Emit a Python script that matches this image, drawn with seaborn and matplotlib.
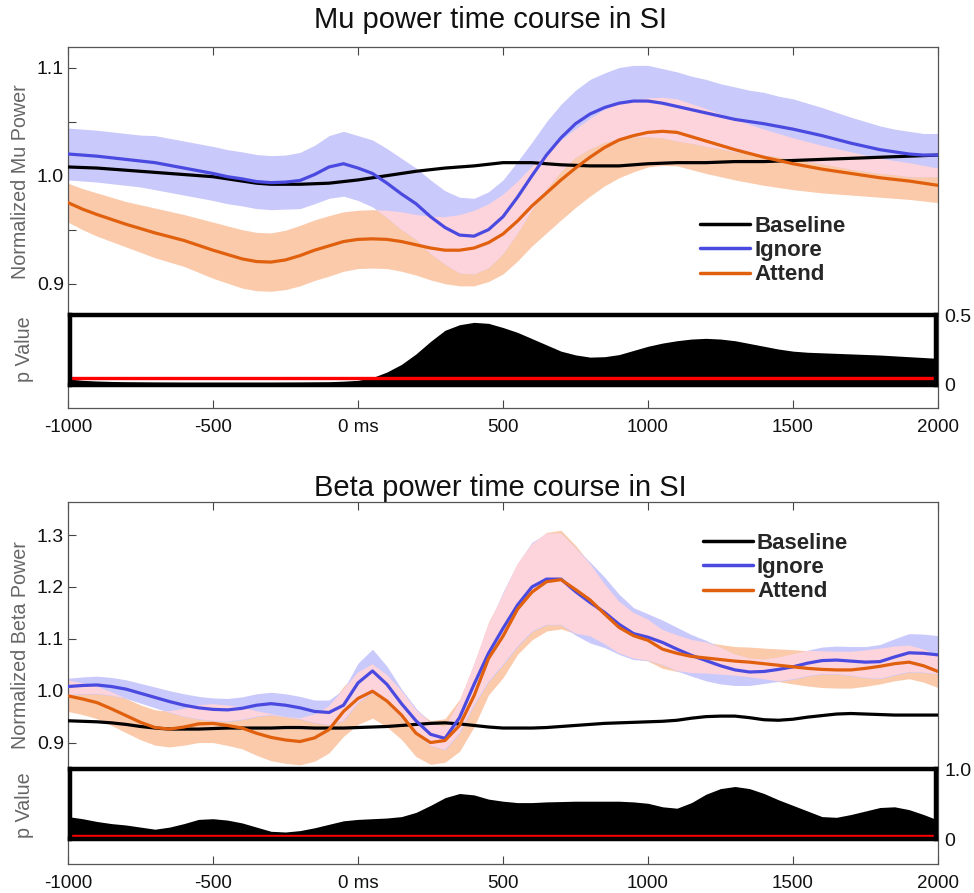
import numpy as np
import matplotlib
matplotlib.use("Agg")
import matplotlib.pyplot as plt
import seaborn as sns
from matplotlib.lines import Line2D

sns.set_theme(style="white")
plt.rcParams["font.family"] = ["Liberation Sans", "DejaVu Sans"]

# ---------------- data (every 50 ms) ----------------
time_ms = [-1000, -950, -900, -850, -800, -750, -700, -650, -600, -550,
           -500, -450, -400, -350, -300, -250, -200, -150, -100, -50,
           0, 50, 100, 150, 200, 250, 300, 350, 400, 450,
           500, 550, 600, 650, 700, 750, 800, 850, 900, 950,
           1000, 1050, 1100, 1150, 1200, 1250, 1300, 1350, 1400, 1450,
           1500, 1550, 1600, 1650, 1700, 1750, 1800, 1850, 1900, 1950, 2000]

mu_baseline = [1.008, 1.0075, 1.007, 1.006, 1.005, 1.004, 1.003, 1.002, 1.001, 1.000,
               0.999, 0.997, 0.995, 0.993, 0.992, 0.992, 0.992, 0.9925, 0.993, 0.9945,
               0.996, 0.998, 1.000, 1.002, 1.004, 1.0055, 1.007, 1.008, 1.009, 1.0105,
               1.012, 1.012, 1.012, 1.011, 1.010, 1.0095, 1.009, 1.009, 1.009, 1.010,
               1.011, 1.0115, 1.012, 1.012, 1.012, 1.0125, 1.013, 1.013, 1.013, 1.0135,
               1.014, 1.0145, 1.015, 1.0155, 1.016, 1.0165, 1.017, 1.0175, 1.018, 1.0185, 1.019]
mu_ignore = [1.020, 1.019, 1.018, 1.0165, 1.015, 1.0135, 1.012, 1.0095, 1.007, 1.0045,
             1.002, 0.999, 0.997, 0.9945, 0.9935, 0.994, 0.9955, 1.001, 1.008, 1.011,
             1.007, 1.002, 0.993, 0.983, 0.974, 0.962, 0.952, 0.945, 0.944, 0.950,
             0.962, 0.980, 1.000, 1.019, 1.035, 1.048, 1.057, 1.063, 1.067, 1.069,
             1.069, 1.067, 1.064, 1.061, 1.058, 1.055, 1.052, 1.050, 1.048, 1.0455,
             1.043, 1.040, 1.037, 1.0335, 1.030, 1.027, 1.024, 1.022, 1.020, 1.019, 1.019]
mu_ignore_sem = [0.024, 0.024, 0.024, 0.024, 0.024, 0.024, 0.025, 0.025, 0.025, 0.025,
                 0.025, 0.025, 0.025, 0.025, 0.025, 0.025, 0.026, 0.027, 0.029, 0.030,
                 0.030, 0.031, 0.032, 0.033, 0.033, 0.034, 0.034, 0.035, 0.035, 0.035,
                 0.034, 0.033, 0.031, 0.031, 0.031, 0.031, 0.032, 0.032, 0.033, 0.033,
                 0.033, 0.032, 0.032, 0.031, 0.031, 0.030, 0.030, 0.029, 0.029, 0.028,
                 0.028, 0.027, 0.026, 0.025, 0.024, 0.023, 0.022, 0.021, 0.021, 0.020, 0.020]
mu_attend = [0.975, 0.969, 0.964, 0.9595, 0.955, 0.951, 0.947, 0.9435, 0.940, 0.9355,
             0.931, 0.927, 0.923, 0.9205, 0.920, 0.922, 0.926, 0.931, 0.935, 0.939,
             0.941, 0.9415, 0.941, 0.939, 0.936, 0.933, 0.931, 0.931, 0.933, 0.938,
             0.946, 0.958, 0.972, 0.984, 0.996, 1.007, 1.017, 1.026, 1.033, 1.037,
             1.040, 1.041, 1.040, 1.036, 1.032, 1.028, 1.024, 1.0205, 1.017, 1.014,
             1.011, 1.0085, 1.006, 1.004, 1.002, 1.000, 0.998, 0.9965, 0.995, 0.993, 0.991]
mu_attend_sem = [0.018, 0.019, 0.020, 0.0205, 0.021, 0.022, 0.023, 0.0235, 0.024, 0.025,
                 0.026, 0.0265, 0.027, 0.027, 0.027, 0.0275, 0.028, 0.028, 0.028, 0.0275,
                 0.027, 0.027, 0.027, 0.0275, 0.028, 0.0295, 0.031, 0.033, 0.035, 0.036,
                 0.037, 0.037, 0.037, 0.037, 0.037, 0.0365, 0.036, 0.0355, 0.035, 0.0335,
                 0.032, 0.0315, 0.031, 0.0305, 0.030, 0.029, 0.028, 0.027, 0.026, 0.025,
                 0.024, 0.023, 0.022, 0.021, 0.020, 0.019, 0.018, 0.0175, 0.017, 0.0165, 0.016]
mu_pvalue = [0.040, 0.030, 0.025, 0.022, 0.020, 0.019, 0.018, 0.0175, 0.017, 0.017,
             0.017, 0.017, 0.017, 0.017, 0.017, 0.0175, 0.018, 0.019, 0.020, 0.024,
             0.030, 0.050, 0.090, 0.145, 0.220, 0.310, 0.390, 0.430, 0.447, 0.440,
             0.410, 0.375, 0.330, 0.285, 0.240, 0.213, 0.197, 0.200, 0.215, 0.245,
             0.275, 0.298, 0.315, 0.327, 0.332, 0.327, 0.315, 0.295, 0.275, 0.255,
             0.240, 0.232, 0.228, 0.224, 0.220, 0.216, 0.212, 0.206, 0.200, 0.194, 0.188]

beta_baseline = [0.942, 0.941, 0.940, 0.938, 0.935, 0.931, 0.928, 0.926, 0.926, 0.926,
                 0.927, 0.928, 0.928, 0.928, 0.928, 0.929, 0.929, 0.928, 0.928, 0.928,
                 0.929, 0.930, 0.931, 0.933, 0.935, 0.937, 0.938, 0.936, 0.933, 0.930,
                 0.928, 0.928, 0.928, 0.929, 0.931, 0.933, 0.935, 0.937, 0.938, 0.939,
                 0.940, 0.941, 0.943, 0.947, 0.950, 0.951, 0.951, 0.948, 0.944, 0.943,
                 0.945, 0.949, 0.952, 0.955, 0.956, 0.955, 0.954, 0.953, 0.953, 0.953, 0.953]
beta_ignore = [1.008, 1.010, 1.011, 1.008, 1.003, 0.995, 0.987, 0.979, 0.972, 0.967,
               0.964, 0.963, 0.966, 0.972, 0.975, 0.972, 0.967, 0.960, 0.958, 0.972,
               1.015, 1.038, 1.012, 0.975, 0.942, 0.916, 0.908, 0.948, 1.012, 1.072,
               1.120, 1.165, 1.200, 1.215, 1.215, 1.191, 1.170, 1.151, 1.128, 1.110,
               1.103, 1.093, 1.080, 1.068, 1.058, 1.048, 1.040, 1.036, 1.037, 1.041,
               1.046, 1.053, 1.058, 1.059, 1.057, 1.055, 1.056, 1.065, 1.073, 1.072, 1.069]
beta_ignore_sem = [0.016, 0.0165, 0.017, 0.0175, 0.018, 0.019, 0.020, 0.021, 0.022, 0.022,
                   0.022, 0.022, 0.022, 0.022, 0.022, 0.022, 0.022, 0.022, 0.024, 0.030,
                   0.038, 0.042, 0.035, 0.028, 0.024, 0.022, 0.022, 0.030, 0.040, 0.055,
                   0.070, 0.080, 0.086, 0.088, 0.088, 0.084, 0.078, 0.068, 0.058, 0.050,
                   0.045, 0.043, 0.042, 0.040, 0.039, 0.035, 0.030, 0.026, 0.023, 0.023,
                   0.024, 0.025, 0.026, 0.027, 0.028, 0.030, 0.033, 0.035, 0.037, 0.037, 0.037]
beta_attend = [0.990, 0.984, 0.977, 0.965, 0.952, 0.939, 0.929, 0.926, 0.930, 0.936,
               0.937, 0.933, 0.928, 0.918, 0.910, 0.905, 0.902, 0.909, 0.925, 0.960,
               0.985, 0.999, 0.980, 0.953, 0.918, 0.900, 0.904, 0.933, 0.990, 1.062,
               1.105, 1.157, 1.190, 1.210, 1.214, 1.195, 1.175, 1.148, 1.122, 1.106,
               1.097, 1.080, 1.072, 1.066, 1.063, 1.060, 1.057, 1.055, 1.052, 1.049,
               1.046, 1.043, 1.041, 1.040, 1.040, 1.043, 1.047, 1.052, 1.055, 1.048, 1.037]
beta_attend_sem = [0.030, 0.030, 0.031, 0.032, 0.033, 0.0335, 0.034, 0.0345, 0.035, 0.036,
                   0.037, 0.0385, 0.040, 0.0425, 0.045, 0.045, 0.045, 0.045, 0.045, 0.048,
                   0.050, 0.052, 0.050, 0.047, 0.045, 0.042, 0.042, 0.050, 0.060, 0.070,
                   0.080, 0.087, 0.092, 0.095, 0.095, 0.085, 0.070, 0.058, 0.050, 0.044,
                   0.040, 0.037, 0.035, 0.032, 0.030, 0.029, 0.028, 0.029, 0.030, 0.0315,
                   0.033, 0.034, 0.035, 0.035, 0.035, 0.0345, 0.034, 0.033, 0.032, 0.0315, 0.031]
beta_pvalue = [0.32, 0.29, 0.25, 0.22, 0.20, 0.17, 0.14, 0.17, 0.22, 0.28,
               0.29, 0.27, 0.23, 0.17, 0.11, 0.10, 0.12, 0.16, 0.21, 0.26,
               0.28, 0.29, 0.30, 0.32, 0.38, 0.48, 0.59, 0.65, 0.63, 0.57,
               0.54, 0.52, 0.52, 0.53, 0.535, 0.54, 0.54, 0.54, 0.54, 0.53,
               0.51, 0.46, 0.44, 0.52, 0.64, 0.72, 0.75, 0.72, 0.65, 0.56,
               0.48, 0.40, 0.32, 0.31, 0.35, 0.40, 0.45, 0.46, 0.42, 0.35, 0.27]

p_threshold = 0.05
x_ticks = [-1000, -500, 0, 500, 1000, 1500, 2000]
x_tick_labels = ["-1000", "-500", "0 ms", "500", "1000", "1500", "2000"]
series_names = ["Baseline", "Ignore", "Attend"]

# ---------------- styling ----------------
C_BASE = "#000000"
C_IGN = "#4a4ae0"
C_ATT = "#e0600e"
C_IGN_BAND = "#c9c9fb"
C_ATT_BAND = "#fbcaab"
C_OVER = "#fdd4dc"
TICK_FS = 13.5
W, H = 974, 893

fig = plt.figure(figsize=(W / 100, H / 100), dpi=100)


def rect(l, t, r, b):
    return [l / W, 1 - b / H, (r - l) / W, (b - t) / H]


def panel(frame, ylim, yticks, yminor, pbox, plim, plabels, pvals,
          base, ign, ign_s, att, att_s, title, title_xy, ylabel, ylabel_y,
          plabel_y, legend_xy):
    t = np.array(time_ms, dtype=float)
    ign = np.array(ign); ign_s = np.array(ign_s)
    att = np.array(att); att_s = np.array(att_s)

    ax = fig.add_axes(rect(*frame))
    ax.set_xlim(-1000, 2000)
    ax.set_ylim(*ylim)

    ax.fill_between(t, att - att_s, att + att_s, color=C_ATT_BAND, lw=0, zorder=1)
    ax.fill_between(t, ign - ign_s, ign + ign_s, color=C_IGN_BAND, lw=0, zorder=1.1)
    lo = np.maximum(ign - ign_s, att - att_s)
    hi = np.minimum(ign + ign_s, att + att_s)
    ax.fill_between(t, lo, hi, where=hi > lo, interpolate=True,
                    color=C_OVER, lw=0, zorder=1.2)

    sns.lineplot(x=t, y=base, ax=ax, color=C_BASE, lw=2.3, label=series_names[0], zorder=3)
    sns.lineplot(x=t, y=ign, ax=ax, color=C_IGN, lw=2.3, label=series_names[1], zorder=3)
    sns.lineplot(x=t, y=att, ax=ax, color=C_ATT, lw=2.3, label=series_names[2], zorder=3)

    ax.set_xticks(x_ticks)
    ax.set_xticklabels(x_tick_labels)
    ax.set_yticks(yticks)
    ax.set_yticklabels([f"{v:.1f}" for v in yticks])
    ax.set_yticks(yminor, minor=True)
    ax.tick_params(axis="both", which="both", direction="in", length=6, width=0.8,
                   color="#444444", labelsize=TICK_FS, labelcolor="#111111",
                   top=True, right=False, left=True, bottom=True)
    ax.tick_params(axis="x", pad=8)
    ax.tick_params(axis="y", pad=3, labelsize=14)
    ax.set_xlabel("")
    ax.set_ylabel("")
    for s in ax.spines.values():
        s.set_linewidth(0.9)
        s.set_color("#555555")

    handles = [Line2D([], [], color=c, lw=2.5) for c in (C_BASE, C_IGN, C_ATT)]
    ax.legend(handles, series_names, loc="center left",
              bbox_to_anchor=(legend_xy[0] / W, 1 - legend_xy[1] / H),
              bbox_transform=fig.transFigure, frameon=False,
              prop={"weight": "bold", "size": 16}, handlelength=2.25,
              handletextpad=0.18, labelspacing=0.15, borderpad=0, borderaxespad=0)

    # p-value box
    pax = fig.add_axes(rect(*pbox))
    x0 = -1000 + (pbox[0] - frame[0]) / (frame[2] - frame[0]) * 3000
    x1 = 2000 - (frame[2] - pbox[2]) / (frame[2] - frame[0]) * 3000
    pax.set_xlim(x0, x1)
    pax.set_ylim(*plim)
    pax.fill_between(t, 0, pvals, color="black", lw=0)
    pax.axhline(p_threshold, color="#ff0000", lw=2.4)
    pax.set_facecolor("white")
    pax.set_xticks([])
    pax.yaxis.tick_right()
    pax.set_yticks(plim)
    pax.set_yticklabels(plabels)
    pax.tick_params(axis="y", length=0, pad=6, labelsize=14, labelcolor="#111111")
    for s in pax.spines.values():
        s.set_linewidth(3.2)
        s.set_color("black")

    fig.text(title_xy[0] / W, 1 - title_xy[1] / H, title, ha="center", va="center",
             fontsize=21, color="#111111")
    fig.text(21 / W, 1 - ylabel_y / H, ylabel, ha="center", va="center",
             rotation=90, fontsize=14.2, color="#666666")
    fig.text(24 / W, 1 - plabel_y / H, "p Value", ha="center", va="center",
             rotation=90, fontsize=14.2, color="#666666")


panel(frame=(68, 47, 938, 408), ylim=(0.785, 1.119), yticks=[0.9, 1.0, 1.1],
      yminor=[0.95, 1.05], pbox=(70, 315, 936, 384.5), plim=(0, 0.5),
      plabels=["0", "0.5"], pvals=mu_pvalue,
      base=mu_baseline, ign=mu_ignore, ign_s=mu_ignore_sem,
      att=mu_attend, att_s=mu_attend_sem,
      title="Mu power time course in SI", title_xy=(491, 20),
      ylabel="Normalized Mu Power", ylabel_y=182, plabel_y=349,
      legend_xy=(700, 250.5))

panel(frame=(68, 502, 938, 864), ylim=(0.666, 1.3636),
      yticks=[0.9, 1.0, 1.1, 1.2, 1.3], yminor=[],
      pbox=(70, 769, 936, 839), plim=(0, 1.0),
      plabels=["0", "1.0"], pvals=beta_pvalue,
      base=beta_baseline, ign=beta_ignore, ign_s=beta_ignore_sem,
      att=beta_attend, att_s=beta_attend_sem,
      title="Beta power time course in SI", title_xy=(500, 488),
      ylabel="Normalized Beta Power", ylabel_y=645, plabel_y=805,
      legend_xy=(703, 567.5))

fig.savefig("out.png", dpi=100)
